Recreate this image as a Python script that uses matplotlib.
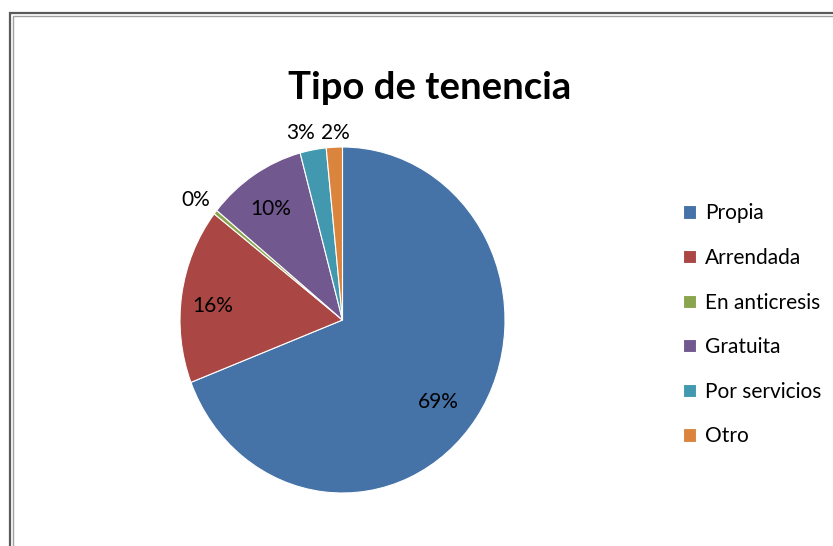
import matplotlib.pyplot as plt
from matplotlib.patches import Rectangle
import numpy as np

categories = ['Propia', 'Arrendada', 'En anticresis', 'Gratuita', 'Por servicios', 'Otro']
shares = [69.2, 16.4, 0.4, 9.9, 2.6, 1.6]
colors = ['#4572A7', '#AA4643', '#89A54E', '#71588F', '#4198AF', '#DB843D']
# percentage label placement: radius (fraction of pie radius) and angle shift from wedge middle
label_radius = [0.76, 0.80, 1.14, 0.78, 1.11, 1.08]
label_shift = [-4.4, 2.4, 1.0, 1.5, 3.0, -0.6]

plt.rcParams['font.family'] = ['Lato', 'DejaVu Sans']

W, H = 833, 546
fig = plt.figure(figsize=(W / 100, H / 100), dpi=100)

# double frame around the chart area
fig.add_artist(Rectangle((9.5 / W, -0.1), 1.2, 1 - 12.5 / H + 0.1, transform=fig.transFigure,
                         fill=False, edgecolor='#5a5a5a', linewidth=1.6))
fig.add_artist(Rectangle((13 / W, -0.1), 1.2, 1 - 16 / H + 0.1, transform=fig.transFigure,
                         fill=False, edgecolor='#a0a0a0', linewidth=1.0))

# the pie in the reference is slightly squashed horizontally
cx, cy, rx, ry = 342.5, 320, 162.5, 173
ax = fig.add_axes([(cx - rx) / W, (H - cy - ry) / H, 2 * rx / W, 2 * ry / H])

wedges, _, autotexts = ax.pie(shares, colors=colors, startangle=90, counterclock=False,
                              autopct='%.0f%%', textprops={'fontsize': 15},
                              wedgeprops={'edgecolor': 'white', 'linewidth': 0.8})
for w, t, rad, sh in zip(wedges, autotexts, label_radius, label_shift):
    ang = np.deg2rad((w.theta1 + w.theta2) / 2 + sh)
    t.set_position((rad * np.cos(ang), rad * np.sin(ang)))
    t.set_color('black')
ax.set_aspect('auto')
ax.set_xlim(-1, 1)
ax.set_ylim(-1, 1)

fig.text(430 / W, 1 - 88 / H, 'Tipo de tenencia', ha='center', va='center',
         fontsize=27.5, fontweight='bold')

fig.legend(wedges, categories, loc='upper left', bbox_to_anchor=(673 / W, 1 - 193 / H),
           frameon=False, fontsize=15, handlelength=0.6, handleheight=0.6,
           handletextpad=0.45, labelspacing=1.18, borderpad=0)

fig.savefig('out.png', dpi=100)
